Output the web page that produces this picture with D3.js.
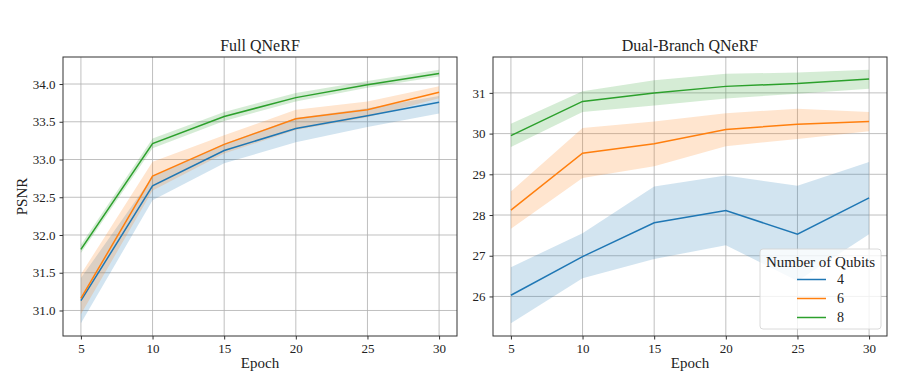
<!DOCTYPE html>
<html>
<head>
<meta charset="utf-8">
<script src="https://cdn.jsdelivr.net/npm/d3@7"></script>
<style>
  body { margin: 0; background: #fff; }
  svg text { font-family: "Liberation Serif", "DejaVu Serif", serif; fill: #222; }
</style>
</head>
<body>
<div id="grafico"></div>
<script>
// Dados
const epocas = [5, 10, 15, 20, 25, 30];
const qubits = ['4', '6', '8'];
const cores = ['#1f77b4', '#ff7f0e', '#2ca02c'];

// Full QNeRF: média, limite inferior, limite superior
const fullMedia4 = [31.13, 32.65, 33.12, 33.41, 33.58, 33.76];
const fullMin4 = [30.83, 32.46, 32.95, 33.23, 33.43, 33.61];
const fullMax4 = [31.43, 32.77, 33.21, 33.55, 33.68, 33.84];
const fullMedia6 = [31.16, 32.78, 33.20, 33.54, 33.66, 33.89];
const fullMin6 = [30.95, 32.59, 33.08, 33.39, 33.56, 33.81];
const fullMax6 = [31.48, 32.97, 33.32, 33.66, 33.77, 33.97];
const fullMedia8 = [31.81, 33.21, 33.57, 33.82, 33.99, 34.14];
const fullMin8 = [31.76, 33.15, 33.51, 33.77, 33.95, 34.10];
const fullMax8 = [31.87, 33.28, 33.63, 33.88, 34.04, 34.19];

// Dual-Branch QNeRF
const dualMedia4 = [26.03, 26.98, 27.81, 28.11, 27.53, 28.42];
const dualMin4 = [25.34, 26.45, 26.92, 27.26, 26.38, 27.53];
const dualMax4 = [26.72, 27.55, 28.70, 28.97, 28.72, 29.30];
const dualMedia6 = [28.12, 29.52, 29.75, 30.10, 30.23, 30.30];
const dualMin6 = [27.66, 28.91, 29.20, 29.69, 29.87, 30.06];
const dualMax6 = [28.58, 30.14, 30.30, 30.50, 30.61, 30.53];
const dualMedia8 = [29.95, 30.79, 31.00, 31.16, 31.23, 31.34];
const dualMin8 = [29.67, 30.53, 30.69, 30.86, 30.98, 31.10];
const dualMax8 = [30.24, 31.04, 31.31, 31.47, 31.50, 31.57];

const ticksFull = [31.0, 31.5, 32.0, 32.5, 33.0, 33.5, 34.0];
const ticksDual = [26, 27, 28, 29, 30, 31];
const ticksX = [5, 10, 15, 20, 25, 30];

const largura = 904;
const altura = 388;

const svg = d3.select('#grafico').append('svg')
  .attr('width', largura).attr('height', altura);

function monta(series) {
  return series.map((s) => epocas.map((e, i) => ({ e, m: s[0][i], lo: s[1][i], hi: s[2][i] })));
}

function painel(opts) {
  const { x0, x1, y0, y1, titulo, series, ticksY, fmt, ylabel } = opts;
  const todos = series.flat();
  const minV = d3.min(todos, (d) => d.lo);
  const maxV = d3.max(todos, (d) => d.hi);
  const padY = (maxV - minV) * 0.05;

  const x = d3.scaleLinear().domain([3.75, 31.25]).range([x0, x1]);
  const y = d3.scaleLinear().domain([minV - padY, maxV + padY]).range([y1, y0]);

  const g = svg.append('g');

  // grade
  g.append('g').selectAll('line').data(ticksX).enter().append('line')
    .attr('x1', (d) => x(d)).attr('x2', (d) => x(d))
    .attr('y1', y0).attr('y2', y1)
    .attr('stroke', '#b0b0b0').attr('stroke-width', 0.8);
  g.append('g').selectAll('line').data(ticksY).enter().append('line')
    .attr('y1', (d) => y(d)).attr('y2', (d) => y(d))
    .attr('x1', x0).attr('x2', x1)
    .attr('stroke', '#b0b0b0').attr('stroke-width', 0.8);

  const area = d3.area().x((d) => x(d.e)).y0((d) => y(d.lo)).y1((d) => y(d.hi));
  const linha = d3.line().x((d) => x(d.e)).y((d) => y(d.m));

  series.forEach((s, i) => {
    g.append('path').datum(s).attr('d', area)
      .attr('fill', cores[i]).attr('fill-opacity', 0.2);
  });
  series.forEach((s, i) => {
    g.append('path').datum(s).attr('d', linha)
      .attr('fill', 'none').attr('stroke', cores[i]).attr('stroke-width', 1.5);
  });

  // eixos
  const eixoX = g.append('g').attr('transform', `translate(0,${y1})`)
    .call(d3.axisBottom(x).tickValues(ticksX).tickSize(3.5).tickPadding(4));
  const eixoY = g.append('g').attr('transform', `translate(${x0},0)`)
    .call(d3.axisLeft(y).tickValues(ticksY).tickFormat(d3.format(fmt)).tickSize(3.5).tickPadding(4));
  [eixoX, eixoY].forEach((ax) => {
    ax.select('.domain').remove();
    ax.selectAll('line').attr('stroke', '#333');
    ax.selectAll('text').attr('font-size', 13).attr('fill', '#1a1a1a')
      .style('font-family', '"Liberation Serif", serif');
  });

  g.append('rect').attr('x', x0).attr('y', y0)
    .attr('width', x1 - x0).attr('height', y1 - y0)
    .attr('fill', 'none').attr('stroke', '#333').attr('stroke-width', 1);

  g.append('text').attr('x', (x0 + x1) / 2).attr('y', y0 - 6)
    .attr('text-anchor', 'middle').attr('font-size', 16).text(titulo);
  g.append('text').attr('x', (x0 + x1) / 2).attr('y', 368)
    .attr('text-anchor', 'middle').attr('font-size', 15).text('Epoch');
  if (ylabel) {
    g.append('text').attr('transform', `translate(27,${(y0 + y1) / 2}) rotate(-90)`)
      .attr('text-anchor', 'middle').attr('font-size', 15).text(ylabel);
  }
  return { x, y };
}

painel({
  x0: 63, x1: 457, y0: 57, y1: 336,
  titulo: 'Full QNeRF', ylabel: 'PSNR', fmt: '.1f', ticksY: ticksFull,
  series: monta([
    [fullMedia4, fullMin4, fullMax4],
    [fullMedia6, fullMin6, fullMax6],
    [fullMedia8, fullMin8, fullMax8]
  ])
});

painel({
  x0: 493, x1: 887, y0: 57, y1: 336,
  titulo: 'Dual-Branch QNeRF', fmt: 'd', ticksY: ticksDual,
  series: monta([
    [dualMedia4, dualMin4, dualMax4],
    [dualMedia6, dualMin6, dualMax6],
    [dualMedia8, dualMin8, dualMax8]
  ])
});

// Legenda
const leg = svg.append('g').attr('transform', 'translate(760,249)');
leg.append('rect').attr('width', 121).attr('height', 80).attr('rx', 3)
  .attr('fill', '#fff').attr('fill-opacity', 0.8)
  .attr('stroke', '#d0d0d0').attr('stroke-width', 0.8);
leg.append('text').attr('x', 60.5).attr('y', 18).attr('text-anchor', 'middle')
  .attr('font-size', 15).text('Number of Qubits');
qubits.forEach((q, i) => {
  const yy = 30.5 + i * 19;
  leg.append('line').attr('x1', 37).attr('x2', 66).attr('y1', yy).attr('y2', yy)
    .attr('stroke', cores[i]).attr('stroke-width', 1.5);
  leg.append('text').attr('x', 77).attr('y', yy + 4.5).attr('font-size', 14).text(q);
});
</script>
</body>
</html>
